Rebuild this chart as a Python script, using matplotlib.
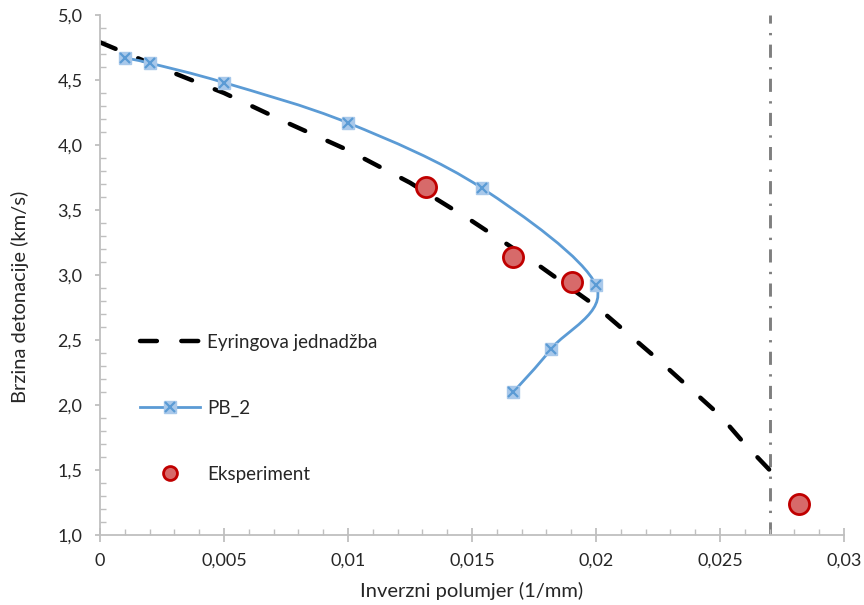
import numpy as np
import matplotlib
matplotlib.use("Agg")
import matplotlib.pyplot as plt
from matplotlib.path import Path
from matplotlib.patches import PathPatch
from matplotlib.lines import Line2D
from matplotlib.ticker import MultipleLocator, FuncFormatter

# Eyring equation curve
eyring_x = [0.0, 0.0025, 0.005, 0.0075, 0.01, 0.0125, 0.015, 0.0175, 0.02, 0.0225, 0.025, 0.026, 0.027]
eyring_y = [4.79, 4.59, 4.40, 4.175, 3.96, 3.71, 3.415, 3.10, 2.76, 2.35, 1.92, 1.70, 1.50]

# PB_2 model (1/R), in drawing order
pb2_x = [1 / 1000, 1 / 500, 1 / 200, 1 / 100, 1 / 65, 1 / 50, 1 / 55, 1 / 60]
pb2_y = [4.67, 4.63, 4.48, 4.17, 3.67, 2.92, 2.43, 2.10]

# experiment
exp_x = [0.01316, 0.01667, 0.01905, 0.02817]
exp_y = [3.675, 3.135, 2.95, 1.24]

crit_x = 0.027

BLUE = "#5b9bd5"
SQ = "#a8c8ea"
RED_EDGE = "#c00000"
RED_FACE = "#d76a6a"
GRID = "#bfbfbf"
TXT = "#262626"

plt.rcParams["font.family"] = ["Lato", "DejaVu Sans"]


def smooth_path(xs, ys):
    # Excel-like smoothed line: Catmull-Rom segments as cubic Beziers
    p = np.column_stack([xs, ys])
    n = len(p)
    verts = [p[0]]
    codes = [Path.MOVETO]
    for i in range(n - 1):
        p0 = p[i - 1] if i > 0 else p[i]
        p3 = p[i + 2] if i + 2 < n else p[i + 1]
        c1 = p[i] + (p[i + 1] - p0) / 6.0
        c2 = p[i + 1] - (p3 - p[i]) / 6.0
        verts += [c1, c2, p[i + 1]]
        codes += [Path.CURVE4] * 3
    return Path(verts, codes)


fig = plt.figure(figsize=(8.64, 6.05), dpi=100)
ax = fig.add_axes([100 / 864, 1 - 535 / 605, 744 / 864, 520 / 605])

ax.set_xlim(0, 0.03)
ax.set_ylim(1.0, 5.0)

ax.axvline(crit_x, color="#7f7f7f", lw=2.1, linestyle=(0, (4.5, 3.2, 0.8, 3.2)), zorder=1)

eyr_ls = (0, (3.8, 5.5))
ax.plot(eyring_x, eyring_y, color="black", lw=3.2, linestyle=eyr_ls,
        dash_capstyle="round", zorder=2)

ax.add_patch(PathPatch(smooth_path(pb2_x, pb2_y), facecolor="none", edgecolor=BLUE,
                       lw=2.0, zorder=3))
ax.plot(pb2_x, pb2_y, linestyle="none", marker="s", ms=9, mfc=SQ, mec=SQ, zorder=4)
ax.plot(pb2_x, pb2_y, linestyle="none", marker="x", ms=7.5, mew=1.6, color=BLUE, zorder=5)

ax.plot(exp_x, exp_y, linestyle="none", marker="o", ms=14.5, mfc=RED_FACE, mec=RED_EDGE,
        mew=2.0, zorder=6)

for s in ["top", "right"]:
    ax.spines[s].set_visible(False)
for s in ["left", "bottom"]:
    ax.spines[s].set_color(GRID)
    ax.spines[s].set_linewidth(1.3)

ax.xaxis.set_major_locator(MultipleLocator(0.005))
ax.xaxis.set_minor_locator(MultipleLocator(0.001))
ax.yaxis.set_major_locator(MultipleLocator(0.5))
ax.yaxis.set_minor_locator(MultipleLocator(0.1))

ax.xaxis.set_major_formatter(FuncFormatter(lambda v, p: ("%g" % round(v, 4)).replace(".", ",")))
ax.yaxis.set_major_formatter(FuncFormatter(lambda v, p: ("%.1f" % v).replace(".", ",")))

ax.tick_params(axis="x", which="major", direction="inout", length=10, width=1.3, color=GRID,
               labelsize=13, labelcolor=TXT, pad=8)
ax.tick_params(axis="y", which="major", direction="out", length=3.6, width=1.3, color=GRID,
               labelsize=13, labelcolor=TXT, pad=9)
ax.tick_params(which="minor", direction="in", length=4, width=1.0, color=GRID)

ax.set_xlabel("Inverzni polumjer (1/mm)", fontsize=14.5, color=TXT, labelpad=9)
ax.set_ylabel("Brzina detonacije (km/s)", fontsize=14.5, color=TXT)
ax.yaxis.set_label_coords(-0.096, 0.458)

h_eyr = Line2D([], [], color="black", lw=3.2, linestyle=eyr_ls, dash_capstyle="round")
h_pb = (Line2D([], [], color=BLUE, lw=2.0),
        Line2D([], [], linestyle="none", marker="s", ms=9, mfc=SQ, mec=SQ),
        Line2D([], [], linestyle="none", marker="x", ms=7.5, mew=1.6, color=BLUE))
h_exp = Line2D([], [], linestyle="none", marker="o", ms=10, mfc=RED_FACE, mec=RED_EDGE, mew=2.0)

ax.legend([h_eyr, h_pb, h_exp], ["Eyringova jednadžba", "PB_2", "Eksperiment"],
          loc="center left", bbox_to_anchor=(0.044, 0.244), borderaxespad=0, frameon=False,
          fontsize=13.5, handlelength=3.2, handletextpad=0.37, labelspacing=2.6, labelcolor=TXT)

fig.savefig("out.png", dpi=100)
